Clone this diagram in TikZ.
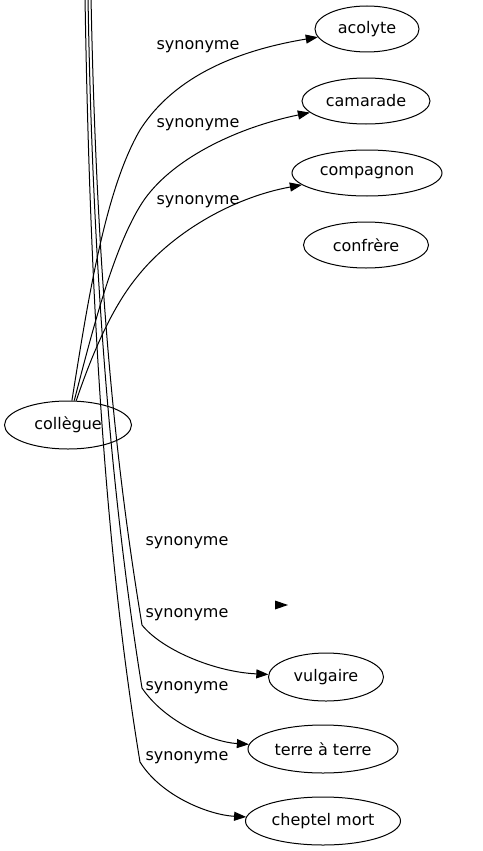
\documentclass[tikz,border=0pt]{standalone}
\usepackage{fontspec}
\setmainfont{DejaVu Sans}
\usetikzlibrary{shapes.geometric,arrows.meta}
\begin{document}
\begin{tikzpicture}[x=1pt,y=-1pt,
  nd/.style={draw,ellipse,line width=1pt,inner sep=0pt,minimum height=46pt,font=\fontsize{16}{19}\selectfont},
  lbl/.style={inner sep=0pt,font=\fontsize{16}{19}\selectfont},
  edge/.style={line width=1pt,-{Triangle[length=12pt,width=9pt]}},
  tipshape/.style={fill=black}]
\useasboundingbox (0,0) rectangle (482,851);

% nodes
\node[nd,minimum width=127pt,minimum height=48pt] (col) at (68,425) {collègue};
\node[nd,minimum width=104pt] (aco) at (367,29) {acolyte};
\node[nd,minimum width=128pt] (cam) at (366,101) {camarade};
\node[nd,minimum width=150pt] (comp) at (367,173) {compagnon};
\node[nd,minimum width=125pt] (conf) at (366,245) {confrère};
\node[nd,minimum width=115pt,minimum height=48pt] (vul) at (326,677) {vulgaire};
\node[nd,minimum width=150pt,minimum height=48pt] (terre) at (323,749) {terre à terre};
\node[nd,minimum width=155pt,minimum height=48pt] (chep) at (323,821) {cheptel mort};

% labels
\node[lbl] (l1) at (198,47) {synonyme};
\node[lbl] (l2) at (198,125) {synonyme};
\node[lbl] (l3) at (198,202) {synonyme};
\node[lbl] (l4) at (187,543) {synonyme};
\node[lbl] (l5) at (187,615) {synonyme};
\node[lbl] (l6) at (187,688) {synonyme};
\node[lbl] (l7) at (187,758) {synonyme};

% edges from collègue
\draw[edge] (col) .. controls (88,300) and (105,190) .. (140,130)
  .. controls (175,75) and (240,50) .. (aco);
\draw[edge] (col) .. controls (95,320) and (115,245) .. (142,203)
  .. controls (170,160) and (235,128) .. (cam);
\draw[edge] (col) .. controls (90,360) and (110,310) .. (137,277)
  .. controls (170,235) and (230,198) .. (comp);

% edges from above the picture
\coordinate (t1) at (85,-3);
\coordinate (t2) at (88,-3);
\coordinate (t3) at (91,-3);
\coordinate (k1) at (140,762);
\coordinate (k2) at (142,688);
\coordinate (k3) at (142,625);
\draw[edge] (t3) .. controls (97,300) and (118,480) .. (k3)
  .. controls (162,650) and (215,672) .. (vul);
\draw[edge] (t2) .. controls (93,300) and (115,520) .. (k2)
  .. controls (165,722) and (212,742) .. (terre);
\draw[edge] (t1) .. controls (90,300) and (105,550) .. (k1)
  .. controls (162,797) and (210,815) .. (chep);

% lone arrowhead
\coordinate (a1) at (275,600.5);
\coordinate (a2) at (288,605);
\coordinate (a3) at (275,609.5);
\fill[tipshape] (a1) -- (a2) -- (a3) -- cycle;
\end{tikzpicture}
\end{document}
